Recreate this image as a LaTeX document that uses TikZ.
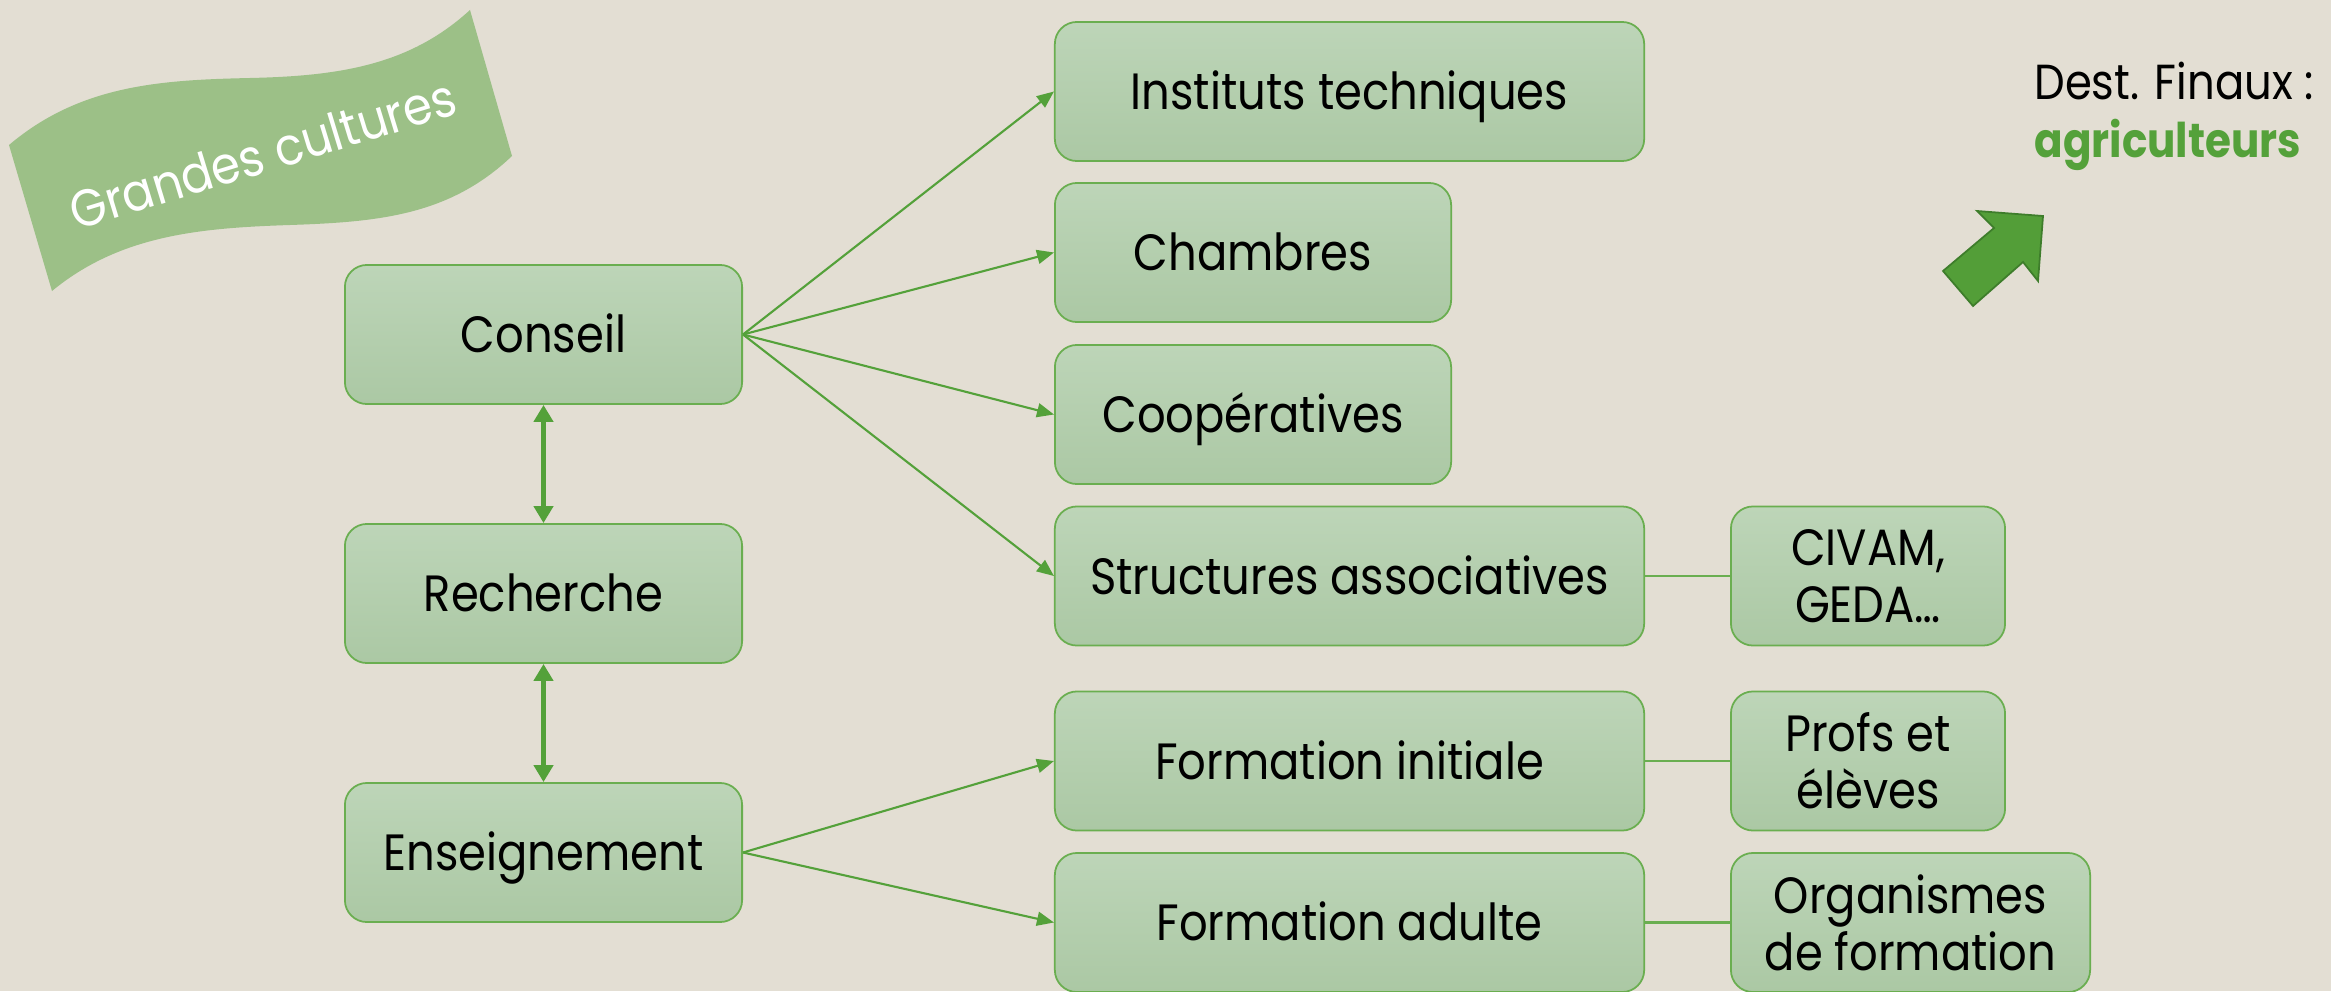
\documentclass[tikz,border=0pt]{standalone}
\usepackage{fontspec}
\setmainfont{Poppins}[FakeStretch=0.88]
\newfontfamily\bannerfont{Poppins}[FakeStretch=0.9]
\usepackage{tikz}
\usetikzlibrary{arrows.meta}

\definecolor{fond}{HTML}{E3DED3}
\definecolor{vertclair}{HTML}{BDD5B8}
\definecolor{vertfonce}{HTML}{ABC8A4}
\definecolor{vertbord}{HTML}{6AAE50}
\definecolor{vertfleche}{HTML}{54A13A}
\definecolor{banniere}{HTML}{9CC087}
\definecolor{flechefond}{HTML}{539E38}
\definecolor{flechebord}{HTML}{3E7D2B}

\tikzset{
  bloc/.style={draw=vertbord, line width=0.5pt, rounded corners=0.22cm,
    top color=vertclair, bottom color=vertfonce, minimum height=1.39cm,
    inner sep=0pt, font=\fontsize{14.5}{16.3}\selectfont,
    text height=0.36cm, text depth=0pt},
  bloc2/.style={bloc, align=center, text height={}, text depth={}},
  fleche/.style={draw=vertfleche, line width=0.6pt,
    -{Triangle[length=0.17cm, width=0.14cm]}},
  lienfort/.style={draw=vertfleche, line width=1.5pt,
    {Triangle[length=0.17cm, width=0.19cm]}-{Triangle[length=0.17cm, width=0.19cm]}},
  lien/.style={draw=vertbord, line width=0.6pt}
}

\begin{document}
\begin{tikzpicture}[x=0.01cm, y=-0.01cm]
    \fill[fond] (0,0) rectangle (2331,991);
    \useasboundingbox (0,0) rectangle (2331,991);

    \fill[banniere] (9,145) .. controls (80,85) and (160,80) .. (250,78)
        .. controls (340,76) and (410,65) .. (470,10) -- (512,156)
        .. controls (450,215) and (380,222) .. (290,225)
        .. controls (200,228) and (120,235) .. (52,291) -- cycle;
    \node[text=white, font=\bannerfont\fontsize{14.8}{18}\selectfont, rotate=17, anchor=base] (titre) at (268,172) {Grandes cultures};

    \node[bloc, minimum width=3.97cm] (conseil) at (543.5,334.5) {Conseil};
    \node[bloc, minimum width=3.97cm] (recherche) at (543.5,593.5) {Recherche};
    \node[bloc, minimum width=3.97cm] (enseignement) at (543.5,852.5) {Enseignement};

    \node[bloc, minimum width=5.89cm] (instituts) at (1349.5,91.5) {Instituts techniques};
    \node[bloc, minimum width=3.96cm] (chambres) at (1253,252.5) {Chambres};
    \node[bloc, minimum width=3.96cm] (coop) at (1253,414.5) {Coopératives};
    \node[bloc, minimum width=5.89cm] (structures) at (1349.5,576) {Structures associatives};
    \node[bloc, minimum width=5.89cm] (forminit) at (1349.5,761) {Formation initiale};
    \node[bloc, minimum width=5.89cm] (formadulte) at (1349.5,922.5) {Formation adulte};

    \node[bloc2, minimum width=2.74cm] (civam) at (1868,576) {CIVAM,\\GEDA…};
    \node[bloc2, minimum width=2.74cm] (profs) at (1868,761) {Profs et\\élèves};
    \node[bloc2, minimum width=3.59cm] (organismes) at (1910.5,922.5) {Organismes\\de formation};

    \draw[lienfort] (conseil) -- (recherche);
    \draw[lienfort] (recherche) -- (enseignement);

    \draw[fleche] (conseil.east) -- (instituts.west);
    \draw[fleche] (conseil.east) -- (chambres.west);
    \draw[fleche] (conseil.east) -- (coop.west);
    \draw[fleche] (conseil.east) -- (structures.west);
    \draw[fleche] (enseignement.east) -- (forminit.west);
    \draw[fleche] (enseignement.east) -- (formadulte.west);

    \draw[lien] (structures) -- (civam);
    \draw[lien] (forminit) -- (profs);
    \draw[lien] (formadulte) -- (organismes);

    \node[anchor=base west, font=\fontsize{14}{16}\selectfont] (dest) at (2022,100) {Dest. Finaux :};
    \node[anchor=base west, font=\fontsize{13.6}{16}\selectfont\bfseries, text=vertfleche] (agri) at (2022,157) {agriculteurs};

    \filldraw[fill=flechefond, draw=flechebord, line width=0.5pt]
        (2043,216) -- (1977,211) -- (1994,228) -- (1943,271)
        -- (1973,306) -- (2023,262) -- (2038,281) -- cycle;
\end{tikzpicture}
\end{document}
